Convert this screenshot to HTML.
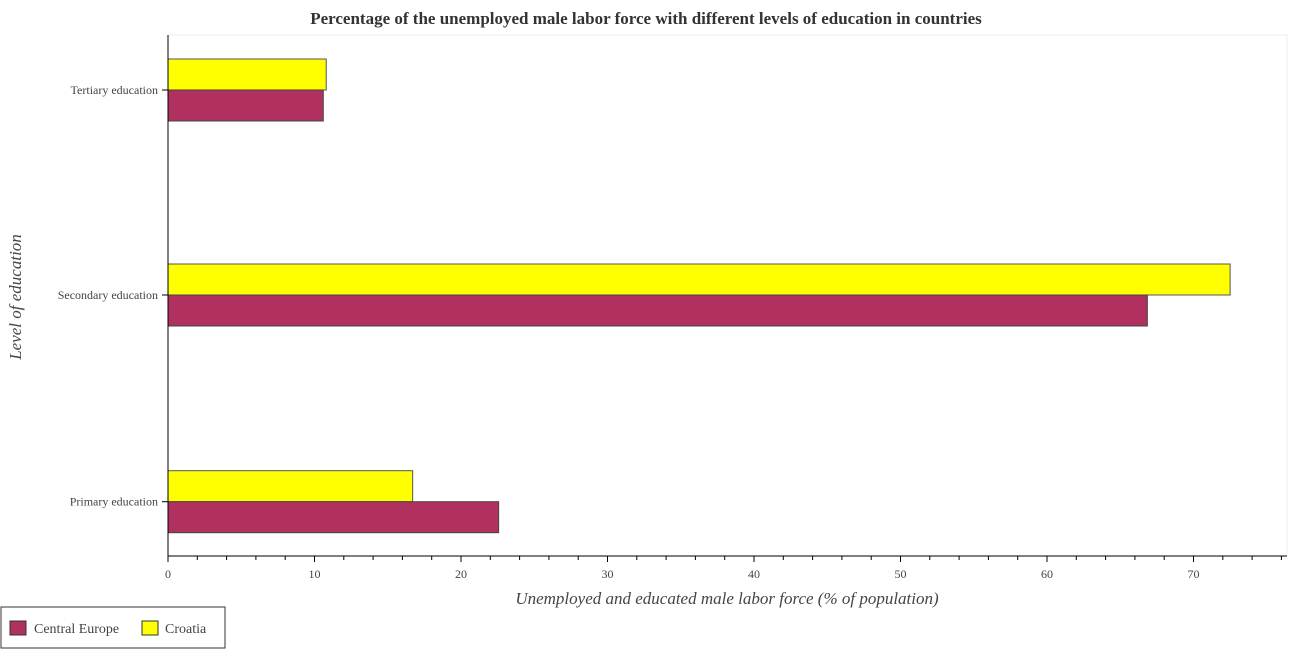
<!DOCTYPE html>
<html><head><meta charset="utf-8"><style>
body{margin:0;background:#fff;font-family:"Liberation Serif",serif}
</style></head><body>
<svg width="1292" height="650" font-family="Liberation Serif, serif">
<text x="646" y="24" text-anchor="middle" font-size="17" font-weight="bold" fill="#333">Percentage of the unemployed male labor force with different levels of education in countries</text>
<rect x="168" y="35" width="1119" height="521" fill="#fff" stroke="#eee"/>
<g id="bars"></g>
<g id="axes"></g>
<text x="727" y="604" text-anchor="middle" font-size="17" font-style="italic" fill="#444">Unemployed and educated male labor force (% of population)</text>
<text transform="translate(21,297) rotate(-90)" text-anchor="middle" font-size="17" font-style="italic" fill="#444">Level of education</text>
<g>
<rect x="1" y="607" width="224" height="41" fill="#fff" stroke="#333"/>
<rect x="10" y="621" width="16" height="14" fill="#b03060" stroke="#333"/>
<text x="34" y="633" font-size="14" fill="#444">Central Europe</text>
<rect x="142" y="621" width="16" height="14" fill="#ffff00" stroke="#333"/>
<text x="165" y="633" font-size="14" fill="#444">Croatia</text>
</g>
</svg>
<script>
const categories=["Primary education","Secondary education","Tertiary education"];
const centralEurope=[22.57,66.85,10.6];
const croatia=[16.7,72.5,10.8];
const xTicks=[0,10,20,30,40,50,60,70];
const NS="http://www.w3.org/2000/svg";
const x0=168,pxPer=14.65,axisY=556;
const centers=[501.7,295,90];
const bh=31;
const xs=v=>x0+v*pxPer;
const bars=document.getElementById('bars'),axes=document.getElementById('axes');
function mk(t,a,p){const e=document.createElementNS(NS,t);for(const k in a)e.setAttribute(k,a[k]);p.appendChild(e);return e;}
categories.forEach((c,i)=>{
 const cy=centers[i];
 const r1=mk('rect',{x:x0,y:cy-bh,width:xs(croatia[i])-x0,height:bh,fill:'#ffff00',stroke:'#555'},bars);
 
 
 const r2=mk('rect',{x:x0,y:cy,width:xs(centralEurope[i])-x0,height:bh,fill:'#b03060',stroke:'#444'},bars);
 
 
 mk('line',{x1:x0-6,x2:x0,y1:cy,y2:cy,stroke:'#000'},axes);
 const t=mk('text',{x:x0-10,y:cy+4,'text-anchor':'end','font-size':'12',fill:'#444'},axes);
 t.textContent=c;
 
 
});
mk('line',{x1:x0,x2:x0,y1:35,y2:axisY,stroke:'#000'},axes);
mk('line',{x1:x0,x2:1287,y1:axisY,y2:axisY,stroke:'#000'},axes);
for(let v=0;v<=76;v+=2){mk('line',{x1:xs(v),x2:xs(v),y1:axisY,y2:axisY+(v%10==0?6:4),stroke:'#000'},axes);}
xTicks.forEach(v=>{const t=mk('text',{x:xs(v),y:axisY+22,'text-anchor':'middle','font-size':'12',fill:'#444'},axes);t.textContent=v;
 
 });
</script>
</body></html>
